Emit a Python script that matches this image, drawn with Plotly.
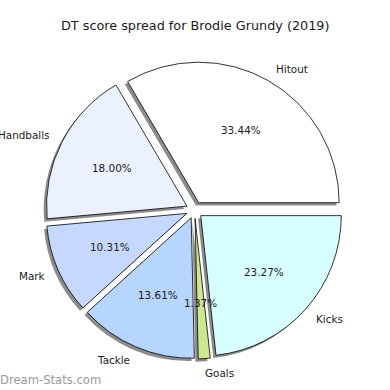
import math
import plotly.graph_objects as go

# ---- data ----
categories = ["Hitout", "Handballs", "Mark", "Tackle", "Goals", "Kicks"]
values = [33.44, 18.00, 10.31, 13.61, 1.37, 23.27]
colors = ["#ffffff", "#ebf1ff", "#c6d8ff", "#b6d5ff", "#cfe890", "#d8ffff"]
title_text = "DT score spread for Brodie Grundy (2019)"
watermark = "Dream-Stats.com"

# ---- layout constants (pixels) ----
W = H = 390
CX, CY = 194.5, 210.0      # pie centre
R = 140.5                  # pie radius
PULL = 0.06                # explode fraction
SHX, SHY = -2.8, 2.8       # shadow offset (px, screen coords)

half = R * (1 + PULL)
total = sum(values)
# first slice starts at 3 o'clock and runs counter-clockwise
ROT = 90 - 360 * values[0] / total


def dom(cx, cy):
    return dict(x=[(cx - half) / W, (cx + half) / W],
                y=[1 - (cy + half) / H, 1 - (cy - half) / H])


fig = go.Figure()
# shadow
fig.add_trace(go.Pie(
    labels=categories, values=values, sort=False, direction="counterclockwise",
    rotation=ROT, pull=[PULL] * len(values), textinfo="none", hoverinfo="skip",
    marker=dict(colors=["rgba(0,0,0,0.45)"] * len(values), line=dict(width=0)),
    domain=dom(CX + SHX, CY + SHY), showlegend=False,
))
# main pie
fig.add_trace(go.Pie(
    labels=categories, values=values, sort=False, direction="counterclockwise",
    rotation=ROT, pull=[PULL] * len(values), textinfo="none",
    marker=dict(colors=colors, line=dict(color="#000000", width=0.8)),
    domain=dom(CX, CY), showlegend=False,
))

annotations = []
start = 0.0
font = dict(family="DejaVu Sans", size=10.4, color="#1a1a1a")
for lab, v in zip(categories, values):
    frac = v / total
    mid = 2 * math.pi * (start + frac / 2)
    start += frac
    c, s = math.cos(mid), math.sin(mid)
    ex, ey = CX + PULL * R * c, CY - PULL * R * s
    # percentage
    px, py = ex + 0.6 * R * c, ey - 0.6 * R * s
    annotations.append(dict(x=px / W, y=1 - py / H, xref="paper", yref="paper",
                            text=f"{v / total * 100:.2f}%", showarrow=False,
                            xanchor="center", yanchor="middle", font=font,
                            borderpad=0, borderwidth=0))
    # label
    lx, ly = ex + 1.1 * R * c, ey - 1.1 * R * s
    annotations.append(dict(x=lx / W, y=1 - ly / H, xref="paper", yref="paper",
                            text=lab, showarrow=False,
                            xanchor="left" if c > 0 else "right", yanchor="middle",
                            font=font, borderpad=0, borderwidth=0))

annotations.append(dict(x=195 / W, y=1 - 26 / H, xref="paper", yref="paper",
                        text=title_text, showarrow=False, xanchor="center",
                        yanchor="middle",
                        font=dict(family="DejaVu Sans", size=12.8, color="#1a1a1a")))
annotations.append(dict(x=0, y=1 - 380 / H, xref="paper", yref="paper",
                        text=watermark, showarrow=False, xanchor="left",
                        yanchor="middle", borderpad=0, borderwidth=0,
                        font=dict(family="DejaVu Sans", size=11.6, color="#9a9a9a")))

fig.update_layout(width=W, height=H, margin=dict(l=0, r=0, t=0, b=0),
                  paper_bgcolor="white", plot_bgcolor="white",
                  annotations=annotations)
fig.write_html("out.html", config={"displayModeBar": False},
               post_script="document.body.style.margin='0';document.body.style.overflow='hidden';")
